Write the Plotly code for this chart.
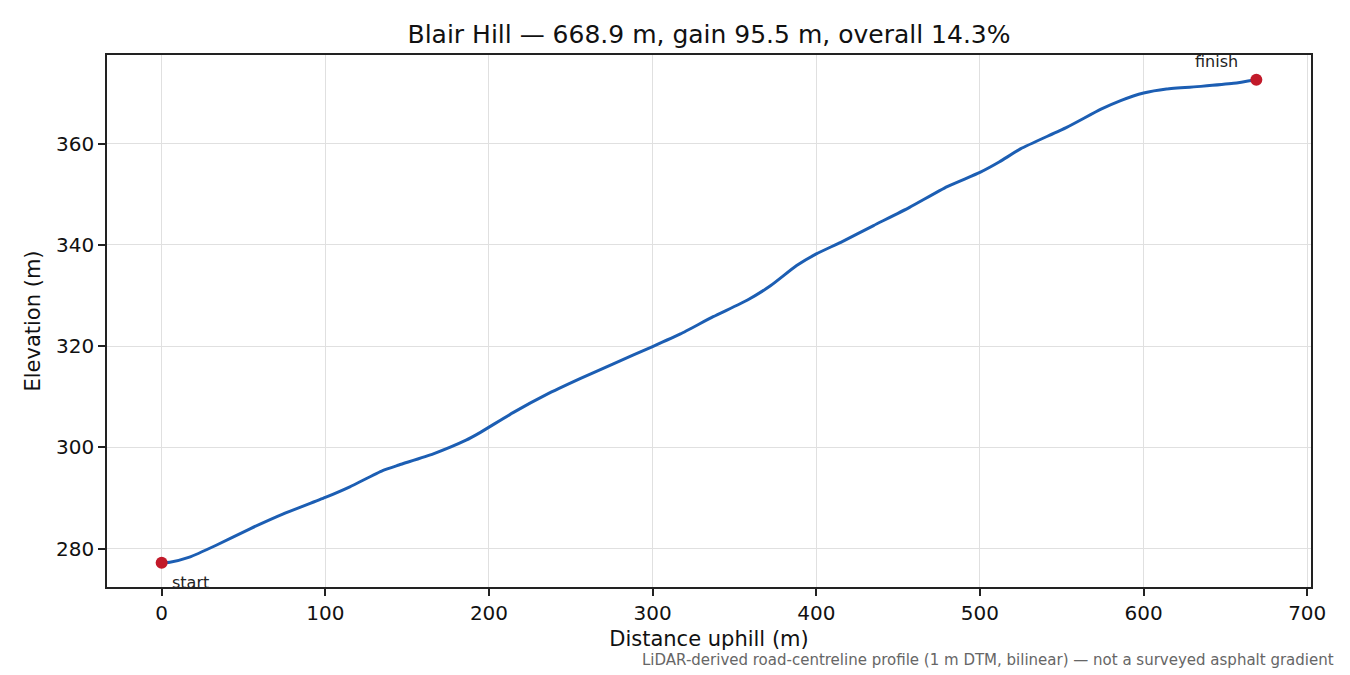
import plotly.graph_objects as go

# distance along the road (m) and elevation (m)
dist = [0, 5, 17, 33, 54, 74, 100, 115, 135, 145, 166, 186, 194, 215, 235, 256, 276,
        300, 317, 337, 358, 372, 388, 400, 415, 435, 457, 480, 500, 512, 525, 553,
        574, 586, 600, 614, 635, 655, 668.9]
elev = [277.2, 277.3, 278.3, 280.6, 283.9, 286.8, 290.1, 292.2, 295.4, 296.5, 298.7,
        301.4, 302.8, 306.9, 310.4, 313.6, 316.5, 319.9, 322.4, 325.8, 329.1, 331.9,
        335.9, 338.2, 340.5, 343.8, 347.4, 351.5, 354.3, 356.4, 359.0, 363.2, 366.8,
        368.5, 370.0, 370.8, 371.3, 371.9, 372.6]

ends_x = [dist[0], dist[-1]]
ends_y = [elev[0], elev[-1]]
ends_text = ['start', 'finish']

title = 'Blair Hill — 668.9 m, gain 95.5 m, overall 14.3%'
note = 'LiDAR-derived road-centreline profile (1 m DTM, bilinear) — not a surveyed asphalt gradient'

font = 'DejaVu Sans, Verdana, sans-serif'

# page body has an 8px margin, so the figure is laid out 8px up/left
W, H = 1350, 675
L, R, T, B = 99, 47, 47, 96
pw, ph = W - L - R, H - T - B

fig = go.Figure()
fig.add_trace(go.Scatter(x=dist, y=elev, mode='lines',
                         line=dict(color='#1c5eb3', width=3, shape='spline', smoothing=0.5),
                         showlegend=False, hoverinfo='x+y'))
fig.add_trace(go.Scatter(x=ends_x, y=ends_y, mode='markers',
                         marker=dict(color='#c21a2a', size=12),
                         showlegend=False))

fig.add_annotation(x=ends_x[0], y=ends_y[0], text=ends_text[0], showarrow=False,
                   xanchor='left', yanchor='middle', xshift=8, yshift=-20,
                   font=dict(size=16, color='#222222'))
fig.add_annotation(x=ends_x[1], y=ends_y[1], text=ends_text[1], showarrow=False,
                   xanchor='right', yanchor='middle', xshift=-16, yshift=18,
                   font=dict(size=16, color='#222222'))
fig.add_annotation(x=(1328 - L) / pw, y=(H - B - 652) / ph, xref='paper', yref='paper',
                   text=note, showarrow=False, xanchor='right', yanchor='middle',
                   font=dict(size=15, color='#666666'))

axis_common = dict(showline=True, linecolor='#222222', linewidth=1.6, mirror=True,
                   ticks='outside', ticklen=7, tickwidth=1.6, tickcolor='#222222',
                   showgrid=True, gridcolor='#e0e0e0', gridwidth=1.4,
                   zeroline=False, tickfont=dict(size=20, color='#111111'))

fig.update_layout(
    width=W, height=H,
    margin=dict(l=L, r=R, t=T, b=B),
    paper_bgcolor='white', plot_bgcolor='white',
    font=dict(family=font, color='#111111'),
    title=dict(text=title, x=701 / W, xanchor='center',
               y=1 - 26 / H, yanchor='middle', yref='container',
               font=dict(size=25, color='#111111')),
    xaxis=dict(range=[-33.4, 702.3], tickvals=[0, 100, 200, 300, 400, 500, 600, 700],
               title=dict(text='Distance uphill (m)', font=dict(size=21), standoff=8),
               **axis_common),
    yaxis=dict(range=[272.4, 377.5], tickvals=[280, 300, 320, 340, 360],
               title=dict(text='Elevation (m)', font=dict(size=21), standoff=10),
               **axis_common),
)

fig.write_html('out.html')
